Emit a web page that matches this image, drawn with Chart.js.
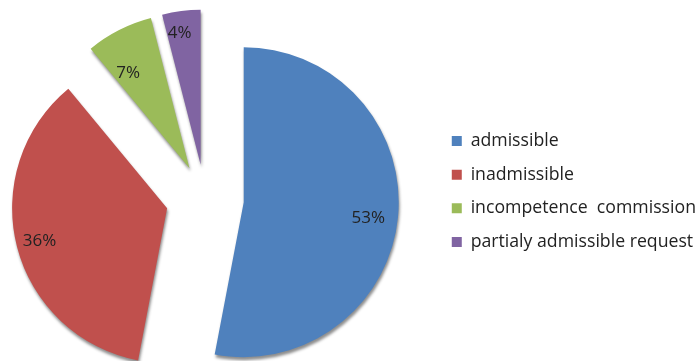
<!DOCTYPE html>
<html>
<head>
<meta charset="utf-8">
<script src="https://cdn.jsdelivr.net/npm/chart.js@4"></script>
<style>
  body { margin: 0; background: #fff; }
  #wrap { width: 697px; height: 361px; }
</style>
</head>
<body>
<div id="wrap"><canvas id="pieChart"></canvas></div>
<script>
// data
const categories = ['admissible', 'inadmissible', 'incompetence  commission', 'partialy admissible request'];
const shares = [53, 36, 7, 4];
const percentLabels = ['53%', '36%', '7%', '4%'];

// styling
const colors = ['#4F81BD', '#C0504D', '#9BBB59', '#8064A2'];
const explode = [39, 39, 34, 34];          // how far each slice is pulled out (px)
const pieShift = { x: -13, y: 7 };         // nudge of the whole pie inside the chart area
const labelRadius = [0.81, 0.85, 0.73, 0.86];
const labelAngle = [0.51, 0.5, 0.27, 0.37]; // where along the slice the label sits

// pulls each slice out along its middle angle
const explodePlugin = {
    id: 'explode',
    afterDatasetsUpdate(chart) {
        const meta = chart.getDatasetMeta(0);
        meta.data.forEach((arc, i) => {
            const mid = (arc.startAngle + arc.endAngle) / 2;
            arc.x += Math.cos(mid) * explode[i] + pieShift.x;
            arc.y += Math.sin(mid) * explode[i] + pieShift.y;
        });
    },
    beforeDatasetsDraw(chart) {
        // a soft drop shadow for the 3d look
        const ctx = chart.ctx;
        ctx.save();
        ctx.shadowColor = 'rgba(0, 0, 0, 0.45)';
        ctx.shadowOffsetX = 1;
        ctx.shadowOffsetY = 3;
        ctx.shadowBlur = 3;
    },
    afterDatasetsDraw(chart) {
        const ctx = chart.ctx;
        ctx.restore();
        // percentage labels inside the slices
        const meta = chart.getDatasetMeta(0);
        ctx.save();
        ctx.font = '17px "Open Sans"';
        ctx.fillStyle = '#222';
        ctx.textAlign = 'center';
        ctx.textBaseline = 'middle';
        meta.data.forEach((arc, i) => {
            const a = arc.startAngle + (arc.endAngle - arc.startAngle) * labelAngle[i];
            const r = arc.outerRadius * labelRadius[i];
            ctx.fillText(percentLabels[i], arc.x + Math.cos(a) * r, arc.y + Math.sin(a) * r);
        });
        ctx.restore();
    }
};

const ctx = document.getElementById('pieChart').getContext('2d');
new Chart(ctx, {
    type: 'pie',
    data: {
        labels: categories,
        datasets: [{
            data: shares,
            backgroundColor: colors,
            borderWidth: 0
        }]
    },
    options: {
        responsive: true,
        maintainAspectRatio: false,
        animation: false,
        radius: 155,
        layout: {
            padding: { left: 0, right: -9, top: 22, bottom: 0 }
        },
        plugins: {
            tooltip: { enabled: false },
            legend: {
                position: 'right',
                labels: {
                    boxWidth: 10,
                    boxHeight: 10,
                    padding: 16,
                    color: '#222',
                    font: { family: '"Open Sans"', size: 17.7 }
                }
            }
        }
    },
    plugins: [explodePlugin]
});
</script>
</body>
</html>
